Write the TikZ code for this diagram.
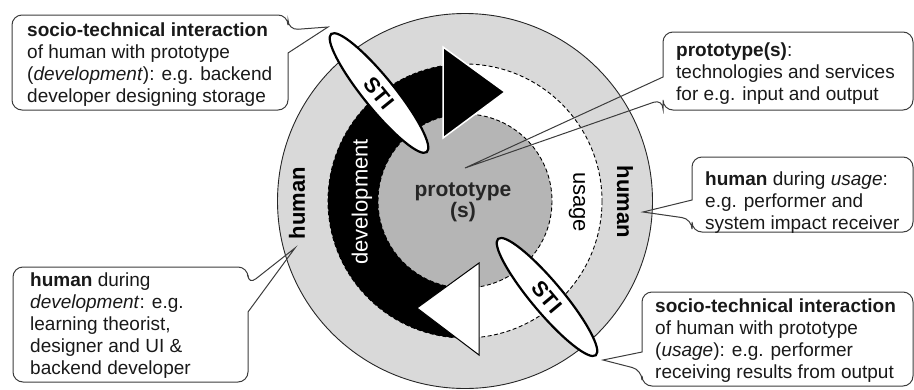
\documentclass[tikz,border=0pt]{standalone}
\usepackage{fontspec}
\setmainfont{Liberation Sans}
\usetikzlibrary{shapes.geometric}
\definecolor{ringgray}{RGB}{217,217,217}
\definecolor{coregray}{RGB}{181,181,181}
\definecolor{boxline}{RGB}{60,60,60}
\begin{document}
\begin{tikzpicture}[x=1pt,y=-1pt,
  calltext/.style={font=\fontsize{19}{22}\selectfont, anchor=north west, inner sep=0pt, align=left, text=black!90},
  callline/.style={draw=boxline, line width=1pt, rounded corners=10pt},
  sti/.style={ellipse, draw=black, fill=white, line width=2.2pt, minimum width=152pt, minimum height=31pt, inner sep=0pt, font=\fontsize{21.5}{22}\selectfont\bfseries},
  ringlabel/.style={font=\fontsize{22}{24}\selectfont\bfseries, inner sep=0pt},
  bandlabel/.style={font=\fontsize{22}{24}\selectfont, inner sep=0pt},
  dashring/.style={draw=black, line width=0.9pt, dash pattern=on 4pt off 2.5pt},
]
\useasboundingbox (0,0) rectangle (914,389);
\coordinate (c) at (465,201);
% rings
\filldraw[fill=ringgray, draw=black!85, line width=0.9pt] (c) circle[radius=187.5];
\filldraw[fill=white, dashring] (c) circle[radius=137];
\filldraw[fill=coregray, dashring] (c) circle[radius=87];
% development band
\fill[black] ([shift={(-99:137)}]c) arc[start angle=-99, end angle=-275, radius=137]
  -- ([shift={(-275:87)}]c) arc[start angle=-275, end angle=-99, radius=87] -- cycle;
% arrowheads
\filldraw[fill=black, draw=white, line width=1.5pt] (443,47) -- (505,92) -- (443,138) -- cycle;
\filldraw[fill=white, draw=black, line width=1pt] (479,263) -- (417,308) -- (479,355) -- cycle;
% labels
\node[ringlabel, rotate=90] (humL) at (297,203) {human};
\node[ringlabel, rotate=-90] (humR) at (625,202) {human};
\node[bandlabel, rotate=90, text=white] (dev) at (362,202) {development};
\node[bandlabel, rotate=-90] (use) at (577,202) {usage};
\node[font=\fontsize{21}{21}\selectfont\bfseries, align=center, inner sep=0pt, text=black!85] (proto) at (463,202) {prototype\\(s)};
% STI ellipses
\node[sti, rotate=-51] (stiA) at (379,93) {STI};
\node[sti, rotate=-50] (stiB) at (547,297) {STI};
% callouts
\draw[callline] (150,15) -- (288,15) -- (288,30) [sharp corners] -- (328,27) -- (288,53) [rounded corners=10pt] -- (288,110) -- (12,110) -- (12,15) -- cycle;
\node[calltext] (tl) at (27,21.5) {\rule{0pt}{15pt}\textbf{socio-technical interaction}\\of human with prototype\\(\textit{development}): e.g. backend\\developer designing storage};
\draw[callline] (780,32) -- (913,32) -- (913,110) -- (663,110) -- (663,99) [sharp corners] -- (465,168) -- (663,77) [rounded corners=10pt] -- (663,32) -- cycle;
\node[calltext] (tr) at (676,41.5) {\rule{0pt}{15pt}\textbf{prototype(s)}:\\technologies and services\\for e.g. input and output};
\draw[callline] (800,157) -- (913,157) -- (913,232) -- (692,232) -- (692,219) [sharp corners] -- (643,212) -- (692,200) [rounded corners=10pt] -- (692,157) -- cycle;
\node[calltext] (mr) at (705,170.5) {\rule{0pt}{15pt}\textbf{human} during \textit{usage}:\\e.g. performer and\\system impact receiver};
\draw[callline] (130,267) -- (248,267) -- (248,285) [sharp corners] -- (295,248) -- (248,312) [rounded corners=10pt] -- (248,382) -- (13,382) -- (13,267) -- cycle;
\node[calltext] (bl) at (30,271) {\rule{0pt}{15pt}\textbf{human} during\\\textit{development}: e.g.\\learning theorist,\\designer and UI \&\\backend developer};
\draw[callline] (780,292) -- (913,292) -- (913,386) -- (642,386) -- (642,370) [sharp corners] -- (603,360) -- (642,352) [rounded corners=10pt] -- (642,292) -- cycle;
\node[calltext] (br) at (655,297.7) {\rule{0pt}{15pt}\textbf{socio-technical interaction}\\of human with prototype\\(\textit{usage}): e.g. performer\\receiving results from output};
\end{tikzpicture}
\end{document}
